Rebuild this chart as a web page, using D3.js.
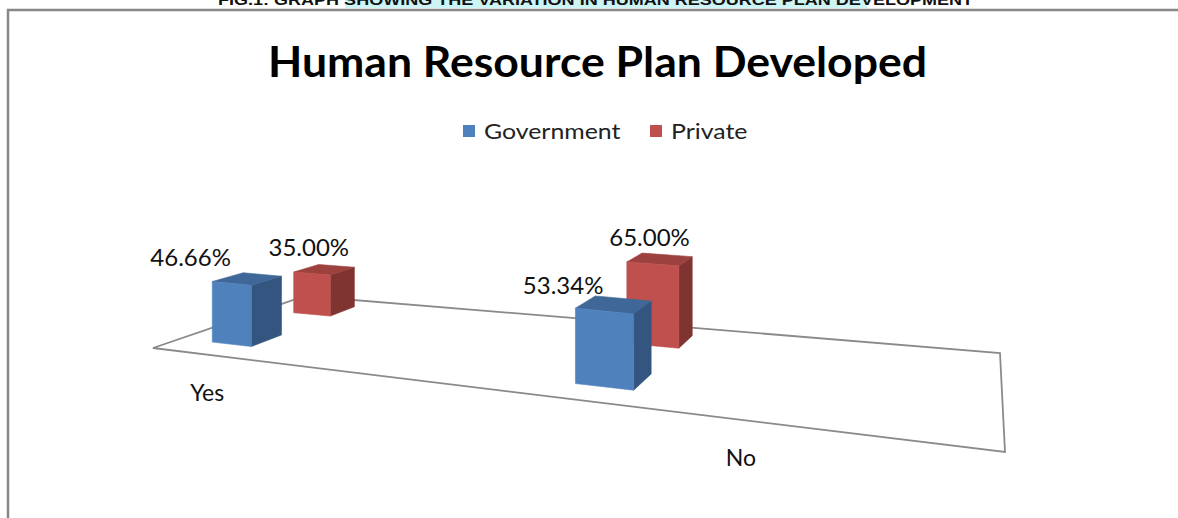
<!DOCTYPE html>
<html>
<head>
<meta charset="utf-8">
<script src="https://cdn.jsdelivr.net/npm/d3@7"></script>
<style>
  html, body { margin: 0; padding: 0; background: #fff; }
  svg { display: block; }
</style>
</head>
<body>
<div id="chart"></div>
<script>
// ---- data ----
const categories = ["Yes", "No"];
const seriesNames = ["Government", "Private"];
const government = [46.66, 53.34];
const privateSector = [35.00, 65.00];
const seriesValues = [government, privateSector];
const chartTitle = "Human Resource Plan Developed";
const figureCaption = "FIG.1: GRAPH SHOWING THE VARIATION IN HUMAN RESOURCE PLAN DEVELOPMENT";

// ---- styles ----
const colors = {
  Government: { front: "#4f81bd", side: "#34557f", top: "#3f6797" },
  Private:    { front: "#c0504d", side: "#803432", top: "#9c413e" }
};
const font = "Lato, 'Open Sans', 'DejaVu Sans', sans-serif";

const W = 1178, H = 518;
const svg = d3.select("#chart").append("svg").attr("width", W).attr("height", H);

// ---- caption strip at the very top (mostly above the page edge) ----
svg.append("rect").attr("x", 345).attr("y", 0).attr("width", 522).attr("height", 8)
  .attr("fill", "#cdf5f5");
svg.append("text").attr("x", 218).attr("y", 5)
  .attr("font-family", "'Liberation Sans', Arial, sans-serif")
  .attr("font-weight", "bold").attr("font-size", 15)
  .attr("textLength", 755).attr("lengthAdjust", "spacingAndGlyphs")
  .attr("fill", "#111").text(figureCaption);

// ---- chart frame ----
svg.append("path").attr("d", `M8,${H} L8,10 L${W},10`)
  .attr("fill", "none").attr("stroke", "#878787").attr("stroke-width", 2.5);

// ---- perspective floor: maps unit square (u along categories, v along series depth) ----
const floorQuad = [[153, 348], [1005, 452], [1000, 353], [305, 296]];
function squareToQuad(q) {
  const [[x0, y0], [x1, y1], [x2, y2], [x3, y3]] = q;
  const sx = x0 - x1 + x2 - x3, sy = y0 - y1 + y2 - y3;
  const dx1 = x1 - x2, dx2 = x3 - x2, dy1 = y1 - y2, dy2 = y3 - y2;
  const den = dx1 * dy2 - dx2 * dy1;
  const g = (sx * dy2 - sy * dx2) / den;
  const h = (dx1 * sy - dy1 * sx) / den;
  return {
    a: x1 - x0 + g * x1, b: x3 - x0 + h * x3, c: x0,
    d: y1 - y0 + g * y1, e: y3 - y0 + h * y3, f: y0, g, h
  };
}
const M = squareToQuad(floorQuad);
function floorPoint(u, v) {
  const w = M.g * u + M.h * v + 1;
  return [(M.a * u + M.b * v + M.c) / w, (M.d * u + M.e * v + M.f) / w];
}
// foreshortening of vertical extents
function depthFactor(u, v) { return 1 + 0.46 * M.g * u + M.h * v; }

const heightScale = d3.scaleLinear().domain([0, 100]).range([0, 133.1]);
function project(u, v, value) {
  const [x, y] = floorPoint(u, v);
  return [x, y - heightScale(value) / depthFactor(u, v)];
}

const uScale = d3.scaleBand().domain(categories).range([0.004, 0.70])
  .paddingInner(0.872).paddingOuter(0.1);
const vScale = d3.scaleBand().domain(seriesNames).range([0.021, 1.013])
  .paddingInner(0.645).paddingOuter(0.25);

// floor outline
const line = d3.line();
svg.append("path")
  .attr("d", line(floorQuad) + "Z")
  .attr("fill", "none").attr("stroke", "#8a8a8a").attr("stroke-width", 1.8);

// ---- bars (drawn far to near) ----
const bars = [];
seriesNames.forEach((s, si) => {
  categories.forEach((c, ci) => {
    const u0 = uScale(c), u1 = u0 + uScale.bandwidth();
    const v0 = vScale(s), v1 = v0 + vScale.bandwidth();
    const w = M.g * (u0 + u1) / 2 + M.h * (v0 + v1) / 2 + 1;
    bars.push({ series: s, si, category: c, value: seriesValues[si][ci], u0, u1, v0, v1, w });
  });
});
bars.sort((p, q) => q.w - p.w);

const barG = svg.append("g");
bars.forEach(b => {
  const col = colors[b.series];
  const g = barG.append("g");
  const front = [project(b.u0, b.v0, 0), project(b.u1, b.v0, 0), project(b.u1, b.v0, b.value), project(b.u0, b.v0, b.value)];
  const side = [project(b.u1, b.v0, 0), project(b.u1, b.v1, 0), project(b.u1, b.v1, b.value), project(b.u1, b.v0, b.value)];
  const top = [project(b.u0, b.v0, b.value), project(b.u1, b.v0, b.value), project(b.u1, b.v1, b.value), project(b.u0, b.v1, b.value)];
  g.append("path").attr("d", line(side) + "Z").attr("fill", col.side)
    .attr("stroke", col.side).attr("stroke-width", 0.6).attr("stroke-linejoin", "round");
  g.append("path").attr("d", line(top) + "Z").attr("fill", col.top)
    .attr("stroke", col.top).attr("stroke-width", 0.6).attr("stroke-linejoin", "round");
  g.append("path").attr("d", line(front) + "Z").attr("fill", col.front)
    .attr("stroke", col.front).attr("stroke-width", 0.6).attr("stroke-linejoin", "round");
});

// ---- data labels ----
const labelOffset = { Government: [-41, -17], Private: [-3, -18] };
const fmt = d => d3.format(".2f")(d) + "%";
bars.forEach(b => {
  const [x, y] = project((b.u0 + b.u1) / 2, b.v0, b.value);
  const [dx, dy] = labelOffset[b.series];
  svg.append("text").attr("x", x + dx).attr("y", y + dy)
    .attr("text-anchor", "middle").attr("font-family", font).attr("font-size", 24)
    .attr("fill", "#111").text(fmt(b.value));
});

// ---- category axis labels along the front edge ----
const axisLabelU = d3.scalePoint().domain(categories).range([0.094, 0.773]);
categories.forEach(c => {
  const [x, y] = floorPoint(axisLabelU(c), 0);
  svg.append("text").attr("x", x).attr("y", y + 46)
    .attr("text-anchor", "middle").attr("font-family", font).attr("font-size", 23)
    .attr("fill", "#111").text(c);
});

// ---- title ----
svg.append("text").attr("x", 597.5).attr("y", 77)
  .attr("text-anchor", "middle").attr("font-family", font)
  .attr("font-weight", "bold").attr("font-size", 42)
  .attr("textLength", 659).attr("lengthAdjust", "spacingAndGlyphs")
  .attr("fill", "#000").text(chartTitle);

// ---- legend ----
const legendX = [463, 650];
const legend = svg.append("g");
seriesNames.forEach((s, i) => {
  legend.append("rect").attr("x", legendX[i]).attr("y", 125).attr("width", 12).attr("height", 12)
    .attr("fill", colors[s].front);
  const t = legend.append("text").attr("x", legendX[i] + 21).attr("y", 139)
    .attr("font-family", font).attr("font-size", 22).attr("fill", "#222").text(s);
  // widen the legend lettering a little
  const natural = t.node().getComputedTextLength();
  t.attr("textLength", natural * 1.13).attr("lengthAdjust", "spacingAndGlyphs");
});
</script>
</body>
</html>
